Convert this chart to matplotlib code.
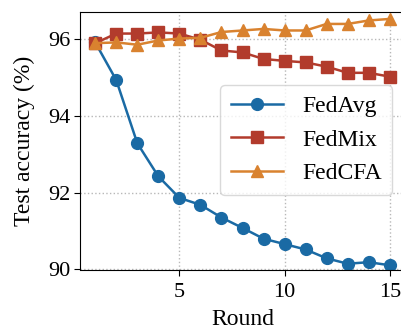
import matplotlib
matplotlib.use("Agg")
import matplotlib.pyplot as plt
import numpy as np

rounds = np.arange(1, 16)
fedavg = [95.90, 94.92, 93.28, 92.42, 91.86, 91.68, 91.35, 91.08, 90.80, 90.66, 90.52, 90.29, 90.15, 90.19, 90.11]
fedmix = [95.88, 96.13, 96.13, 96.16, 96.13, 95.97, 95.69, 95.64, 95.47, 95.42, 95.38, 95.27, 95.11, 95.11, 95.01]
fedcfa = [95.88, 95.90, 95.84, 95.95, 96.00, 96.02, 96.17, 96.21, 96.25, 96.21, 96.21, 96.38, 96.38, 96.47, 96.51]

plt.rcParams["font.family"] = ["Liberation Serif", "DejaVu Serif"]
plt.rcParams["font.size"] = 17

fig = plt.figure(figsize=(4.02, 3.31), dpi=100)
ax = fig.add_axes([80.5 / 402, 1 - 269.5 / 331, 324 / 402, 257.5 / 331])

ax.plot(rounds, fedavg, "-o", color="#1a6aa4", lw=1.8, ms=8.5, label="FedAvg")
ax.plot(rounds, fedmix, "-s", color="#b23b2c", lw=1.8, ms=8.5, label="FedMix")
ax.plot(rounds, fedcfa, "-^", color="#d9822f", lw=1.8, ms=8.5, label="FedCFA")

ax.set_xlim(0.3, 15.7)
ax.set_ylim(90, 96.69)
ax.set_xticks([5, 10, 15])
ax.set_yticks([90, 92, 94, 96])
ax.tick_params(direction="out", length=4, labelsize=16)
ax.tick_params(axis="x", pad=6)
ax.set_xlabel("Round", labelpad=5)
ax.set_ylabel("Test accuracy (%)", labelpad=9)
ax.grid(True, linestyle=":", color="#b8b8b8", linewidth=1)
ax.set_axisbelow(True)
ax.legend(loc="center right", bbox_to_anchor=(0.962, 0.503), borderaxespad=0,
          fontsize=17, handlelength=2.2, borderpad=0.45, labelspacing=0.5,
          framealpha=0.8, edgecolor="#d0d0d0", fancybox=True)

fig.savefig("out.png", dpi=100)
